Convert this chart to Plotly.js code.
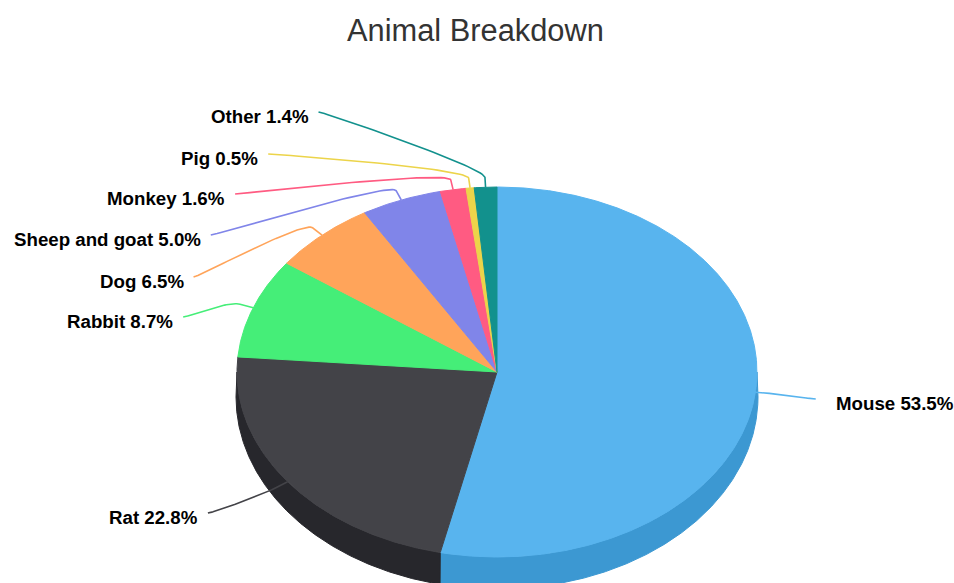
<!DOCTYPE html>
<html><head><meta charset="utf-8">
<script src="https://cdn.plot.ly/plotly-3.0.1.min.js"></script>
<style>html,body{margin:0;padding:0;background:#fff;}#chart{width:954px;height:583px;}</style>
</head><body><div id="chart"></div>
<script>
// ---- data ----
const categories = ['Mouse', 'Rat', 'Rabbit', 'Dog', 'Sheep and goat', 'Monkey', 'Pig', 'Other'];
const shares = [53.5, 22.8, 8.7, 6.5, 5.0, 1.6, 0.5, 1.4];
const colors = ['#58b4ee', '#434348', '#45ee78', '#ffa45a', '#8085e9', '#ff5b82', '#ecd44a', '#12918d'];
// label layout (connector start y, px)
const labelY = [399, 513, 317, 277, 235, 194, 154, 112];

// ---- geometry (layout) ----
const CX = 497, CY = 372, RA = 260, RB = 185;      // top face ellipse
const BCX = 497, BCY = 397, BA = 261, BB = 192;    // bottom face ellipse
const LCX = 497, LCY = 377, LR = 319.5;            // label anchor circle
const OFF = 14, GAP_L = 8, GAP_R = 18;
const FONT = 'Arial, "Liberation Sans", Helvetica, sans-serif';

function darker(hex, amt) {
  const n = parseInt(hex.slice(1), 16);
  const c = [(n >> 16) & 255, (n >> 8) & 255, n & 255].map(v => Math.max(0, Math.round(v - amt)));
  return 'rgb(' + c.join(',') + ')';
}
const rad = d => d * Math.PI / 180;
const topPt = d => [CX + RA * Math.sin(rad(d)), CY - RB * Math.cos(rad(d))];
const botPt = d => [BCX + BA * Math.sin(rad(d)), BCY - BB * Math.cos(rad(d))];

const total = shares.reduce((a, b) => a + b, 0);
const starts = [], ends = [];
let acc = 0;
shares.forEach(v => { starts.push(acc / total * 360); acc += v; ends.push(acc / total * 360); });

function arc(fn, a, b) {
  const pts = [];
  const n = Math.max(2, Math.ceil(Math.abs(b - a) / 0.25));
  for (let k = 0; k <= n; k++) pts.push(fn(a + (b - a) * k / n));
  return pts;
}

const traces = [];
// side walls (front half only)
shares.forEach((v, i) => {
  const s = Math.max(starts[i], 90), e = Math.min(ends[i], 270);
  if (s >= e) return;
  const pts = arc(topPt, s, e).concat(arc(botPt, e, s));
  pts.push(pts[0]);
  const col = darker(colors[i], 28);
  traces.push({
    type: 'scatter', mode: 'lines', x: pts.map(p => p[0]), y: pts.map(p => p[1]),
    fill: 'toself', fillcolor: col, line: {color: col, width: 1}, hoverinfo: 'skip', showlegend: false
  });
});
// top faces
shares.forEach((v, i) => {
  const pts = [[CX, CY]].concat(arc(topPt, starts[i], ends[i]));
  pts.push([CX, CY]);
  traces.push({
    type: 'scatter', mode: 'lines', x: pts.map(p => p[0]), y: pts.map(p => p[1]),
    fill: 'toself', fillcolor: colors[i], line: {color: colors[i], width: 1}, hoverinfo: 'skip', showlegend: false
  });
});

// connectors and labels
const annotations = [];
shares.forEach((v, i) => {
  const m = (starts[i] + ends[i]) / 2;
  const isLeft = m > 180;
  const T = topPt(m);
  const Bk = [T[0] + OFF * Math.sin(rad(m)), T[1] - OFF * Math.cos(rad(m)) * RB / RA];
  const ly = labelY[i];
  const lx = LCX + (isLeft ? -1 : 1) * Math.sqrt(LR * LR - (ly - LCY) * (ly - LCY));
  const P0 = [lx, ly], P1 = [lx + (isLeft ? 5 : -5), ly], P2 = [2 * Bk[0] - T[0], 2 * Bk[1] - T[1]], P3 = Bk;
  const xs = [], ys = [];
  for (let k = 0; k <= 40; k++) {
    const t = k / 40, u = 1 - t;
    xs.push(u*u*u*P0[0] + 3*u*u*t*P1[0] + 3*u*t*t*P2[0] + t*t*t*P3[0]);
    ys.push(u*u*u*P0[1] + 3*u*u*t*P1[1] + 3*u*t*t*P2[1] + t*t*t*P3[1]);
  }
  xs.push(T[0]); ys.push(T[1]);
  traces.push({
    type: 'scatter', mode: 'lines', x: xs, y: ys, line: {color: colors[i], width: 1.6},
    hoverinfo: 'skip', showlegend: false
  });
  annotations.push({
    xref: 'x', yref: 'y', x: isLeft ? lx - GAP_L : lx + GAP_R, y: ly + 4,
    xanchor: isLeft ? 'right' : 'left', yanchor: 'middle', showarrow: false,
    text: '<b>' + categories[i] + ' ' + v.toFixed(1) + '%</b>',
    font: {family: FONT, size: 18.7, color: '#000000'}
  });
});

const layout = {
  width: 954, height: 583,
  margin: {l: 0, r: 0, t: 0, b: 0},
  paper_bgcolor: '#ffffff', plot_bgcolor: '#ffffff',
  title: {
    text: 'Animal Breakdown',
    font: {family: FONT, size: 30.8, color: '#333333'},
    x: 0.4984, xref: 'container', xanchor: 'center',
    y: 1 - 30 / 583, yref: 'container', yanchor: 'middle'
  },
  xaxis: {range: [0, 954], visible: false, fixedrange: true},
  yaxis: {range: [583, 0], visible: false, fixedrange: true},
  annotations: annotations,
  showlegend: false
};
Plotly.newPlot('chart', traces, layout, {displayModeBar: false, staticPlot: true});
</script>
</body></html>
